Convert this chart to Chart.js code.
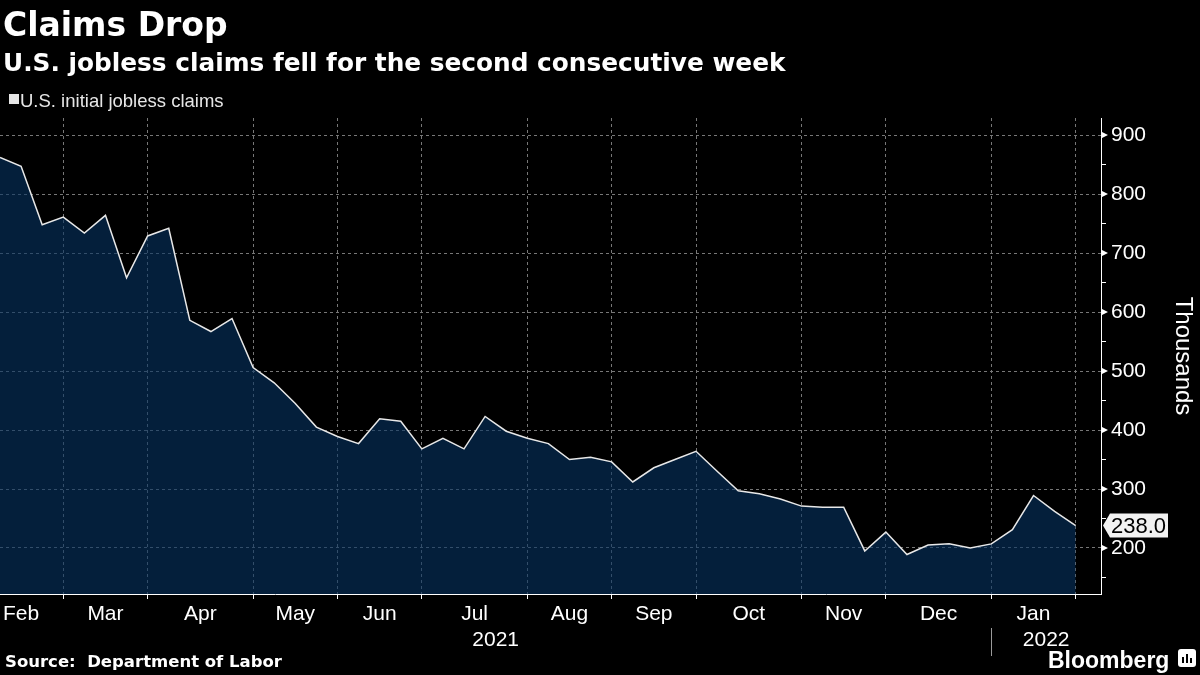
<!DOCTYPE html>
<html>
<head>
<meta charset="utf-8">
<title>Claims Drop</title>
<script src="https://cdn.jsdelivr.net/npm/chart.js@4.4.1/dist/chart.umd.min.js"></script>
<style>
    html, body { margin: 0; padding: 0; background: #000; }
    #wrap { position: relative; width: 1200px; height: 675px; overflow: hidden; background: #000; color: #fff; }
    #chart { position: absolute; left: 0; top: 0; }
    .txt { position: absolute; white-space: pre; line-height: 1; }
    #title    { left: 3px; top: 5px;  font: bold 33px 'DejaVu Sans', sans-serif; }
    #subtitle { left: 3px; top: 48px; font: bold 24.8px 'DejaVu Sans', sans-serif; }
    #legendBox { position: absolute; left: 9px; top: 94px; width: 10px; height: 10px; background: #e6e6e6; }
    #legend   { left: 20px; top: 90px; font: 18.5px 'Liberation Sans', sans-serif; color: #e6e6e6; }
    #source   { left: 5px; top: 652px; font: bold 16.5px 'DejaVu Sans', sans-serif; }
    #brand    { left: 1048px; top: 647px; font: bold 23px 'Liberation Sans', sans-serif; }
    #logo { position: absolute; left: 1178px; top: 649px; width: 18px; height: 18px; background: #fff; border-radius: 3px; }
    #logo span { position: absolute; bottom: 4px; width: 2px; background: #000; }
</style>
</head>
<body>
<div id="wrap">
    <canvas id="chart" width="1200" height="675"></canvas>
    <div class="txt" id="title">Claims Drop</div>
    <div class="txt" id="subtitle">U.S. jobless claims fell for the second consecutive week</div>
    <div id="legendBox"></div>
    <div class="txt" id="legend">U.S. initial jobless claims</div>
    <div class="txt" id="source">Source:  Department of Labor</div>
    <div class="txt" id="brand">Bloomberg</div>
    <div id="logo"><span style="left:4px;height:6px"></span><span style="left:8px;height:9px"></span><span style="left:12px;height:5px"></span></div>
</div>

<script>
/* ── Data: week-ending dates and initial claims (thousands) ── */
const weeks = [
    '2021-02-06', '2021-02-13', '2021-02-20', '2021-02-27',
    '2021-03-06', '2021-03-13', '2021-03-20', '2021-03-27',
    '2021-04-03', '2021-04-10', '2021-04-17', '2021-04-24', '2021-05-01',
    '2021-05-08', '2021-05-15', '2021-05-22', '2021-05-29',
    '2021-06-05', '2021-06-12', '2021-06-19', '2021-06-26',
    '2021-07-03', '2021-07-10', '2021-07-17', '2021-07-24', '2021-07-31',
    '2021-08-07', '2021-08-14', '2021-08-21', '2021-08-28',
    '2021-09-04', '2021-09-11', '2021-09-18', '2021-09-25',
    '2021-10-02', '2021-10-09', '2021-10-16', '2021-10-23', '2021-10-30',
    '2021-11-06', '2021-11-13', '2021-11-20', '2021-11-27',
    '2021-12-04', '2021-12-11', '2021-12-18', '2021-12-25', '2022-01-01',
    '2022-01-08', '2022-01-15', '2022-01-22', '2022-01-29'
];

const claims = [
    862, 847, 748, 761,
    734, 764, 658, 729,
    742, 586, 567, 589, 506,
    480, 445, 405, 389,
    377, 419, 415, 368,
    386, 368, 423, 398, 386,
    377, 350, 354, 346,
    312, 336, 350, 364,
    330, 297, 292, 283, 271,
    269, 269, 195, 227,
    189, 205, 207, 200, 207,
    231, 289, 262, 238
];

const monthNames = ['Jan', 'Feb', 'Mar', 'Apr', 'May', 'Jun', 'Jul', 'Aug', 'Sep', 'Oct', 'Nov', 'Dec'];
const yTickValues = [150, 200, 250, 300, 350, 400, 450, 500, 550, 600, 650, 700, 750, 800, 850, 900];

const X_MAX = 52.2;
const GRID = '#777777';


/* ── Group weeks into months / years (week ending on the 1st counts for the prior month) ── */
function periodOf(dateStr) {
    const d = new Date(dateStr + 'T12:00:00');
    d.setDate(d.getDate() - 1);
    return { month: d.getMonth(), year: d.getFullYear() };
}

function buildXTicks() {
    const ticks = [];
    const monthEnds = [];
    const yearEnds = [];

    weeks.forEach((w, i) => {
        const p = periodOf(w);
        const n = weeks[i + 1] ? periodOf(weeks[i + 1]) : null;
        if (!n || n.month !== p.month) monthEnds.push({ idx: i, month: p.month });
        if (!n || n.year !== p.year) yearEnds.push({ idx: i, year: p.year });
    });

    let prev = -1;
    monthEnds.forEach(m => {
        ticks.push({ value: m.idx, label: '', grid: true });
        ticks.push({ value: (prev + m.idx) / 2, label: monthNames[m.month], grid: false });
        prev = m.idx;
    });

    let start = 0;
    yearEnds.forEach((y, k) => {
        const end = k === yearEnds.length - 1 ? X_MAX : y.idx;
        ticks.push({ value: (start + end) / 2, label: ['', String(y.year)], grid: false });
        start = y.idx;
    });

    ticks.sort((a, b) => a.value - b.value);
    return { ticks, yearEnds };
}

const xInfo = buildXTicks();
const xTicks = xInfo.ticks;


/* ── Extra marks: tick arrows, year divider, last-value tag ── */
const decorPlugin = {
    id: 'decor',
    afterDraw(chart) {
        const { ctx } = chart;
        const xs = chart.scales.x;
        const ys = chart.scales.y;
        const axisX = ys.left;

        ctx.save();

        // right-pointing arrows on the labelled y ticks
        ctx.fillStyle = '#ffffff';
        yTickValues.filter(v => v % 100 === 0).forEach(v => {
            const y = ys.getPixelForValue(v);
            ctx.beginPath();
            ctx.moveTo(axisX, y - 3.5);
            ctx.lineTo(axisX + 7, y);
            ctx.lineTo(axisX, y + 3.5);
            ctx.closePath();
            ctx.fill();
        });

        // divider between year labels
        ctx.strokeStyle = '#9a9a9a';
        ctx.lineWidth = 1;
        xInfo.yearEnds.slice(0, -1).forEach(y => {
            const x = Math.round(xs.getPixelForValue(y.idx)) + 0.5;
            ctx.beginPath();
            ctx.moveTo(x, 628);
            ctx.lineTo(x, 656);
            ctx.stroke();
        });

        // last value tag
        const last = claims[claims.length - 1];
        const ly = ys.getPixelForValue(last);
        ctx.fillStyle = '#f2f2f2';
        ctx.beginPath();
        ctx.moveTo(axisX + 2, ly);
        ctx.lineTo(axisX + 9, ly - 12);
        ctx.lineTo(axisX + 67, ly - 12);
        ctx.lineTo(axisX + 67, ly + 12);
        ctx.lineTo(axisX + 9, ly + 12);
        ctx.closePath();
        ctx.fill();
        ctx.fillStyle = '#000000';
        ctx.font = '22px "Liberation Sans", sans-serif';
        ctx.textBaseline = 'middle';
        ctx.textAlign = 'left';
        ctx.fillText(last.toFixed(1), axisX + 10, ly + 1);

        ctx.restore();
    }
};


/* ── Chart ── */
new Chart(document.getElementById('chart'), {
    type: 'line',
    data: {
        datasets: [{
            label: 'U.S. initial jobless claims',
            data: claims.map((v, i) => ({ x: i, y: v })),
            borderColor: '#e8e8e8',
            borderWidth: 1.5,
            backgroundColor: 'rgba(7,51,98,0.6)',
            fill: 'start',
            pointRadius: 0,
            tension: 0
        }]
    },
    options: {
        responsive: false,
        animation: false,
        layout: { padding: { top: 118, left: 0, right: 0, bottom: 0 } },
        plugins: { legend: { display: false }, tooltip: { enabled: false } },
        scales: {
            x: {
                type: 'linear',
                min: 0,
                max: X_MAX,
                afterBuildTicks: s => { s.ticks = xTicks.map(t => ({ value: t.value })); },
                afterFit: s => { s.height = 81; },
                ticks: {
                    autoSkip: false,
                    maxRotation: 0,
                    padding: 3,
                    color: '#ffffff',
                    font: { size: 21, family: 'Liberation Sans' },
                    callback: (v, i) => xTicks[i] ? xTicks[i].label : ''
                },
                grid: {
                    color: c => (xTicks[c.index] && xTicks[c.index].grid) ? GRID : 'transparent',
                    tickColor: c => (xTicks[c.index] && xTicks[c.index].grid) ? '#ffffff' : 'transparent',
                    tickLength: 5,
                    lineWidth: 1
                },
                border: { color: '#ffffff', width: 1, dash: [3, 3], z: 2 }
            },
            y: {
                position: 'right',
                min: 122,
                max: 929,
                afterBuildTicks: s => { s.ticks = yTickValues.map(v => ({ value: v })); },
                afterFit: s => { s.width = 99; },
                ticks: {
                    padding: 5,
                    color: '#ffffff',
                    font: { size: 21, family: 'Liberation Sans' },
                    callback: v => v % 100 === 0 ? String(v) : ''
                },
                grid: {
                    color: c => (c.tick && c.tick.value % 100 === 0) ? GRID : 'transparent',
                    tickColor: c => (c.tick && c.tick.value % 100 === 0) ? 'transparent' : '#ffffff',
                    tickLength: 5,
                    lineWidth: 1
                },
                border: { color: '#ffffff', width: 1, dash: [3, 3], z: 2 },
                title: {
                    display: true,
                    text: 'Thousands',
                    color: '#ffffff',
                    font: { size: 24, family: 'Liberation Sans' },
                    padding: { top: 3, bottom: 0 }
                }
            }
        }
    },
    plugins: [decorPlugin]
});
</script>
</body>
</html>
